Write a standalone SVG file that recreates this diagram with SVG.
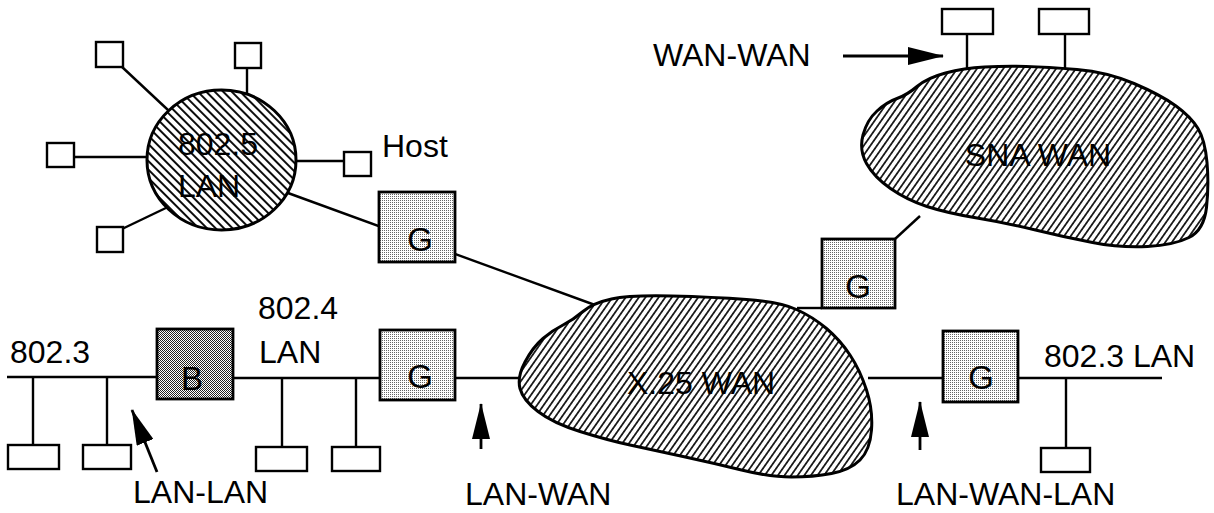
<svg xmlns="http://www.w3.org/2000/svg" width="1214" height="513" viewBox="0 0 1214 513">
  <style>
    .lbl { font-family: "Liberation Sans", Arial, sans-serif; font-size: 32px; fill: #000; }
    .gl { font-family: "Liberation Sans", Arial, sans-serif; font-size: 33px; fill: #000; text-anchor: middle; }
    .wire { stroke: #000; stroke-width: 2.4; fill: none; }
    .host { fill: #fff; stroke: #000; stroke-width: 2.4; }
    .gw { fill: url(#dotsLight); stroke: #000; stroke-width: 2.8; }
    .br { fill: url(#dotsDark); stroke: #000; stroke-width: 2.8; }
    .cloud { fill: url(#hatchCloud); stroke: #000; stroke-width: 3; stroke-linejoin: round; }
    .ring { fill: url(#hatchRing); stroke: #000; stroke-width: 3; }
    .arrow { stroke: #000; stroke-width: 2.8; fill: none; marker-end: url(#head); }
  </style>
  <defs>
    <pattern id="hatchCloud" patternUnits="userSpaceOnUse" width="5.4" height="10" patternTransform="rotate(35)">
      <rect width="5.4" height="10" fill="#fff"/>
      <line x1="2.7" y1="-1" x2="2.7" y2="11" stroke="#000" stroke-width="1.6"/>
    </pattern>
    <pattern id="hatchRing" patternUnits="userSpaceOnUse" width="6" height="10" patternTransform="rotate(-45)">
      <rect width="6" height="10" fill="#fff"/>
      <line x1="3" y1="-1" x2="3" y2="11" stroke="#000" stroke-width="1.9"/>
    </pattern>
    <pattern id="dotsLight" patternUnits="userSpaceOnUse" width="2" height="2">
      <rect width="2" height="2" fill="#fff"/>
      <rect x="0" y="0" width="1" height="1" fill="#666"/>
    </pattern>
    <pattern id="dotsDark" patternUnits="userSpaceOnUse" width="2" height="2">
      <rect width="2" height="2" fill="#fff"/>
      <rect x="0" y="0" width="1" height="1" fill="#222"/>
      <rect x="1" y="1" width="1" height="1" fill="#222"/>
    </pattern>
    <marker id="head" markerUnits="userSpaceOnUse" markerWidth="36" markerHeight="18" refX="35" refY="9" orient="auto">
      <path d="M0,0 L36,9 L0,18 Z" fill="#000"/>
    </marker>
  </defs>

  <!-- links between networks, buses and stations -->
  <g id="connectors">
    <!-- token ring stations -->
    <line class="wire" x1="121" y1="66" x2="168" y2="110"/>
    <line class="wire" x1="247" y1="68" x2="247" y2="93"/>
    <line class="wire" x1="74" y1="157" x2="147" y2="157"/>
    <line class="wire" x1="296" y1="161" x2="344" y2="161"/>
    <line class="wire" x1="122" y1="229" x2="170" y2="206"/>
    <!-- ring through gateway to X.25 -->
    <line class="wire" x1="288" y1="193" x2="595" y2="305"/>
    <!-- 802.3 bus -->
    <line class="wire" x1="7" y1="377" x2="157" y2="377"/>
    <line class="wire" x1="33" y1="377" x2="33" y2="445"/>
    <line class="wire" x1="107" y1="377" x2="107" y2="445"/>
    <!-- 802.4 bus -->
    <line class="wire" x1="233" y1="378" x2="380" y2="378"/>
    <line class="wire" x1="282" y1="378" x2="282" y2="447"/>
    <line class="wire" x1="356" y1="378" x2="356" y2="447"/>
    <!-- gateway to X.25 -->
    <line class="wire" x1="455" y1="378" x2="519" y2="378"/>
    <!-- X.25 to right gateway and 802.3 LAN -->
    <line class="wire" x1="868" y1="378" x2="943" y2="378"/>
    <line class="wire" x1="1018" y1="378" x2="1162" y2="378"/>
    <line class="wire" x1="1066" y1="378" x2="1066" y2="448"/>
    <!-- X.25 to SNA gateway -->
    <line class="wire" x1="797" y1="308" x2="822" y2="308"/>
    <line class="wire" x1="895" y1="239" x2="920" y2="216"/>
    <!-- SNA terminals -->
    <line class="wire" x1="967" y1="34" x2="967" y2="77"/>
    <line class="wire" x1="1065" y1="34" x2="1065" y2="76"/>
  </g>

  <g id="x25-wan">
    <path class="cloud" d="M611.5,299 Q630,295 671.5,296 Q713,297 746.5,299.5 Q780,302 796.5,309.5 Q813,317 826.5,328.5 Q840,340 850,355 Q860,370 866.5,390 Q873,410 871.5,430 Q870,450 860,460 Q850,470 831.5,473.5 Q813,477 791.5,477 Q770,477 741.5,470 Q713,463 683,456.5 Q653,450 630,445 Q607,440 580,431.5 Q553,423 538,411.5 Q523,400 520,388.5 Q517,377 525,362 Q533,347 543,338.5 Q553,330 563,325 Q573,320 583,311.5 Q593,303 611.5,299 Z"/>
    <text class="lbl" x="701" y="394" text-anchor="middle">X.25 WAN</text>
  </g>

  <g id="sna-wan">
    <path class="cloud" d="M945.5,73 Q964,68 984.5,67 Q1005,66 1026,66.5 Q1047,67 1077,69.5 Q1107,72 1134,83.5 Q1161,95 1176,106 Q1191,117 1198,128.5 Q1205,140 1207,162.5 Q1209,185 1206.5,207.5 Q1204,230 1189,237.5 Q1174,245 1147.5,246.5 Q1121,248 1092.5,242.5 Q1064,237 1035.5,230 Q1007,223 977,218 Q947,213 927,206.5 Q907,200 890.5,188.5 Q874,177 866.5,163.5 Q859,150 863,135 Q867,120 877,111 Q887,102 897,98.5 Q907,95 917,86.5 Q927,78 945.5,73 Z"/>
    <text class="lbl" x="1038" y="166" text-anchor="middle">SNA WAN</text>
  </g>

  <g id="token-ring">
    <ellipse class="ring" cx="221.5" cy="160" rx="74.5" ry="70"/>
    <text class="lbl" x="218" y="155" text-anchor="middle">802.5</text>
    <text class="lbl" x="209" y="197" text-anchor="middle">LAN</text>
  </g>

  <!-- stations on the token ring -->
  <g id="ring-host-1"><rect class="host" x="96" y="42" width="27" height="25"/></g>
  <g id="ring-host-2"><rect class="host" x="235" y="43" width="26" height="25"/></g>
  <g id="ring-host-3"><rect class="host" x="47" y="143" width="27" height="24"/></g>
  <g id="ring-host-4"><rect class="host" x="344" y="152" width="27" height="24"/><text class="lbl" x="382" y="157">Host</text></g>
  <g id="ring-host-5"><rect class="host" x="97" y="227" width="26" height="25"/></g>

  <!-- gateways and bridge -->
  <g id="gateway-ring"><rect class="gw" x="379" y="192" width="76" height="70"/><text class="gl" x="420" y="251">G</text></g>
  <g id="gateway-sna"><rect class="gw" x="822" y="239" width="73" height="69"/><text class="gl" x="858" y="298">G</text></g>
  <g id="gateway-lan"><rect class="gw" x="380" y="330" width="75" height="70"/><text class="gl" x="420" y="388">G</text></g>
  <g id="gateway-right"><rect class="gw" x="943" y="331" width="75" height="71"/><text class="gl" x="981" y="389">G</text></g>
  <g id="bridge"><rect class="br" x="157" y="329" width="76" height="70"/><text class="gl" x="192" y="390">B</text></g>

  <!-- bus stations -->
  <g id="lan3-host-1"><rect class="host" x="8" y="445" width="51" height="24"/></g>
  <g id="lan3-host-2"><rect class="host" x="83" y="445" width="48" height="24"/></g>
  <g id="lan4-host-1"><rect class="host" x="256" y="447" width="51" height="24"/></g>
  <g id="lan4-host-2"><rect class="host" x="332" y="447" width="48" height="24"/></g>
  <g id="lan3b-host"><rect class="host" x="1041" y="448" width="49" height="24"/></g>
  <g id="sna-term-1"><rect class="host" x="942" y="9" width="51" height="25"/></g>
  <g id="sna-term-2"><rect class="host" x="1039" y="9" width="50" height="25"/></g>

  <!-- network labels -->
  <g id="labels">
    <text class="lbl" x="10" y="363">802.3</text>
    <text class="lbl" x="258" y="319">802.4</text>
    <text class="lbl" x="259" y="363">LAN</text>
    <text class="lbl" x="1044" y="367">802.3 LAN</text>
  </g>

  <!-- interconnection type callouts -->
  <g id="callout-wan-wan">
    <text class="lbl" x="653" y="66">WAN-WAN</text>
    <line class="arrow" x1="843" y1="56" x2="943" y2="56"/>
  </g>
  <g id="callout-lan-lan">
    <text class="lbl" x="133" y="503">LAN-LAN</text>
    <line class="arrow" x1="157" y1="472" x2="132" y2="410"/>
  </g>
  <g id="callout-lan-wan">
    <text class="lbl" x="465" y="505">LAN-WAN</text>
    <line class="arrow" x1="481" y1="449" x2="481" y2="404"/>
  </g>
  <g id="callout-lan-wan-lan">
    <text class="lbl" x="896" y="505">LAN-WAN-LAN</text>
    <line class="arrow" x1="920" y1="450" x2="920" y2="402"/>
  </g>
</svg>
